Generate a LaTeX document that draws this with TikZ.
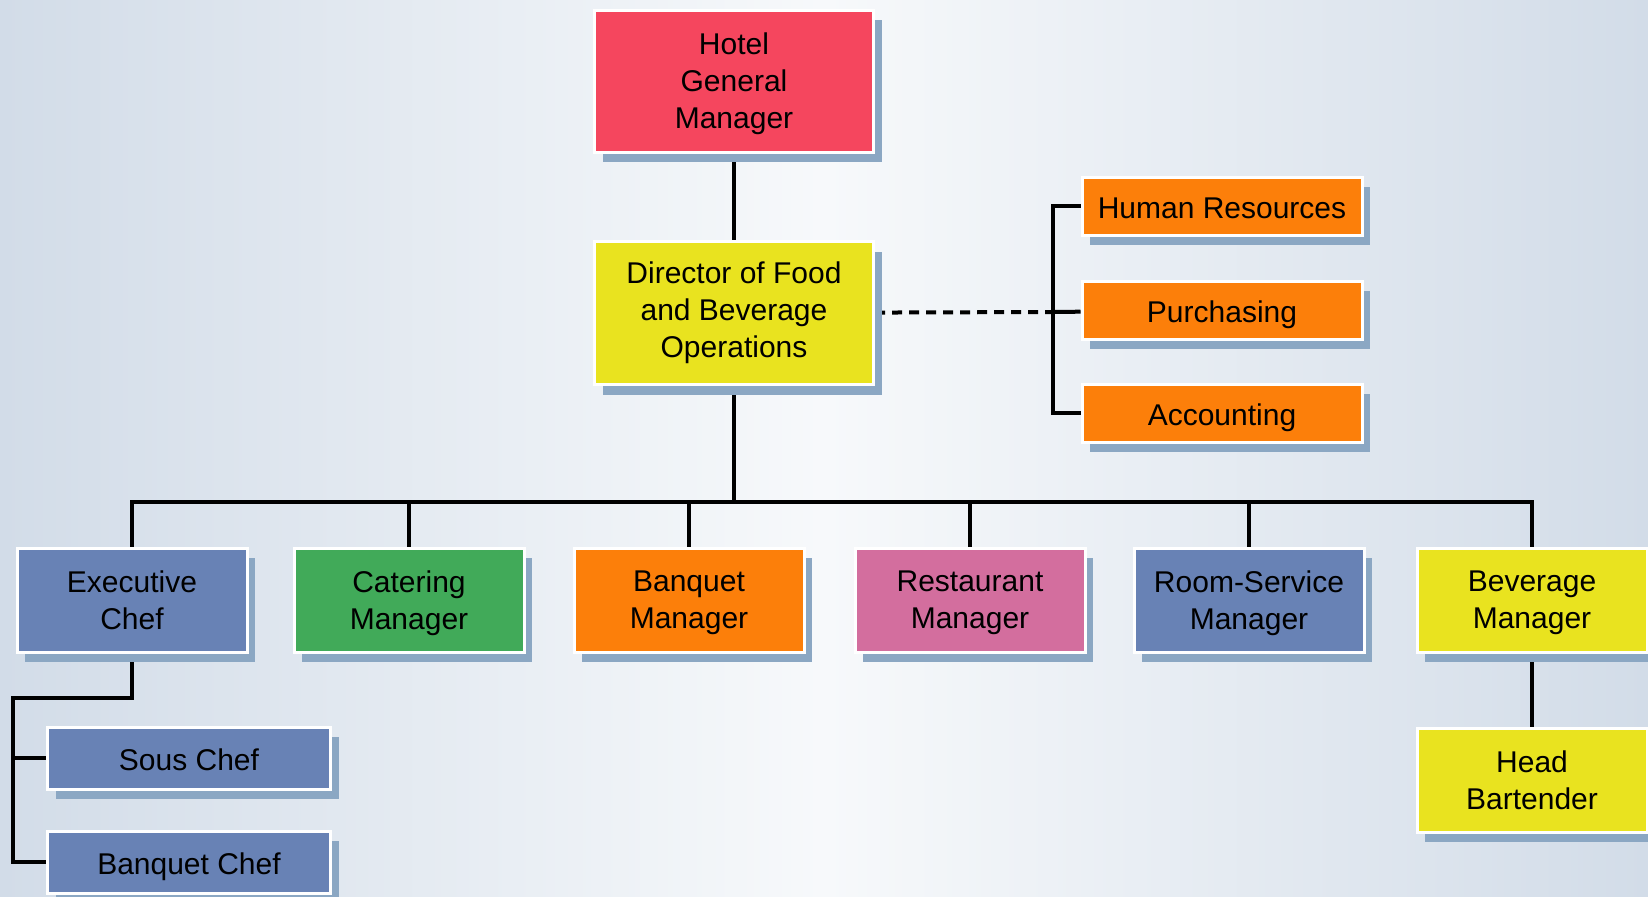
\documentclass[tikz,border=0pt]{standalone}
\usepackage{fontspec}
\setmainfont{Liberation Sans}
\usetikzlibrary{shadows}

\definecolor{gmred}{HTML}{F5465E}
\definecolor{fbyellow}{HTML}{E9E31F}
\definecolor{deptorange}{HTML}{FC7F0A}
\definecolor{catgreen}{HTML}{41AA59}
\definecolor{chefblue}{HTML}{6882B5}
\definecolor{restpink}{HTML}{D36E9E}
\definecolor{shadowblue}{HTML}{8BA7C3}
\definecolor{bgedge}{HTML}{D2DCE8}
\definecolor{bgmid}{HTML}{F7F9FB}

\pgfdeclarelayer{bg}
\pgfdeclarelayer{lines}
\pgfsetlayers{bg,lines,main}

\begin{document}
\begin{tikzpicture}[x=0.5pt, y=-0.5pt,
        box/.style={draw=white, line width=1.5pt, align=center, text=black, inner sep=0pt,
            font=\fontsize{15}{18.5}\selectfont, text depth=0pt,
            drop shadow={shadow xshift=4pt, shadow yshift=-5pt, fill=shadowblue, opacity=1}},
        topbox/.style={box, minimum width=139.5pt, minimum height=71pt},
        unitbox/.style={box, minimum width=115pt, minimum height=52pt},
        deptbox/.style={box, minimum width=140pt, minimum height=29pt, text height=12.5pt},
        subbox/.style={box, minimum width=141.5pt, minimum height=31pt, text height=12.5pt},
        link/.style={line width=2pt}]
        \useasboundingbox (0,0) rectangle (1648,896);

        \begin{pgfonlayer}{bg}
            \fill[left color=bgedge, right color=bgmid] (0,0) rectangle (824,896);
            \fill[left color=bgmid, right color=bgedge] (824,0) rectangle (1648,896);
        \end{pgfonlayer}

        \node[topbox, fill=gmred] (gm) at (734,81) {Hotel\\General\\Manager};
        \node[topbox, fill=fbyellow, minimum height=71.5pt, text depth=3pt] (dir) at (734,313) {Director of Food\\and Beverage\\Operations};

        \node[deptbox, fill=deptorange] (hr) at (1222,206) {Human Resources};
        \node[deptbox, fill=deptorange] (pur) at (1222,310) {Purchasing};
        \node[deptbox, fill=deptorange] (acc) at (1222,413) {Accounting};

        \node[unitbox, fill=chefblue] (exec) at (132,600) {Executive\\Chef};
        \node[unitbox, fill=catgreen] (cat) at (409,600) {Catering\\Manager};
        \node[unitbox, fill=deptorange] (banq) at (689,600) {Banquet\\Manager};
        \node[unitbox, fill=restpink] (rest) at (970,600) {Restaurant\\Manager};
        \node[unitbox, fill=chefblue] (room) at (1249,600) {Room-Service\\Manager};
        \node[unitbox, fill=fbyellow] (bev) at (1532,600) {Beverage\\Manager};

        \node[subbox, fill=chefblue] (sous) at (189,758) {Sous Chef};
        \node[subbox, fill=chefblue] (bchef) at (189,862) {Banquet Chef};
        \node[unitbox, fill=fbyellow] (head) at (1532,780) {Head\\Bartender};

        \begin{pgfonlayer}{lines}
            \coordinate (bus) at (734,502);
            \coordinate (brk) at (1053,312);
            \coordinate (split) at (13,698);

            \draw[link] (gm) -- (dir) -- (bus);
            \foreach \n in {exec,cat,banq,rest,room,bev}
                \draw[link] (bus) -| (\n);
            \draw[link, dash pattern=on 5pt off 3.5pt] (dir) -- (brk);
            \draw[link] (hr) -| (brk) |- (acc);
            \draw[link] (brk) -- (pur);
            \draw[link] (exec) |- (split) |- (bchef);
            \draw[link] (split |- sous) -- (sous);
            \draw[link] (bev) -- (head);
        \end{pgfonlayer}
    \end{tikzpicture}
\end{document}
